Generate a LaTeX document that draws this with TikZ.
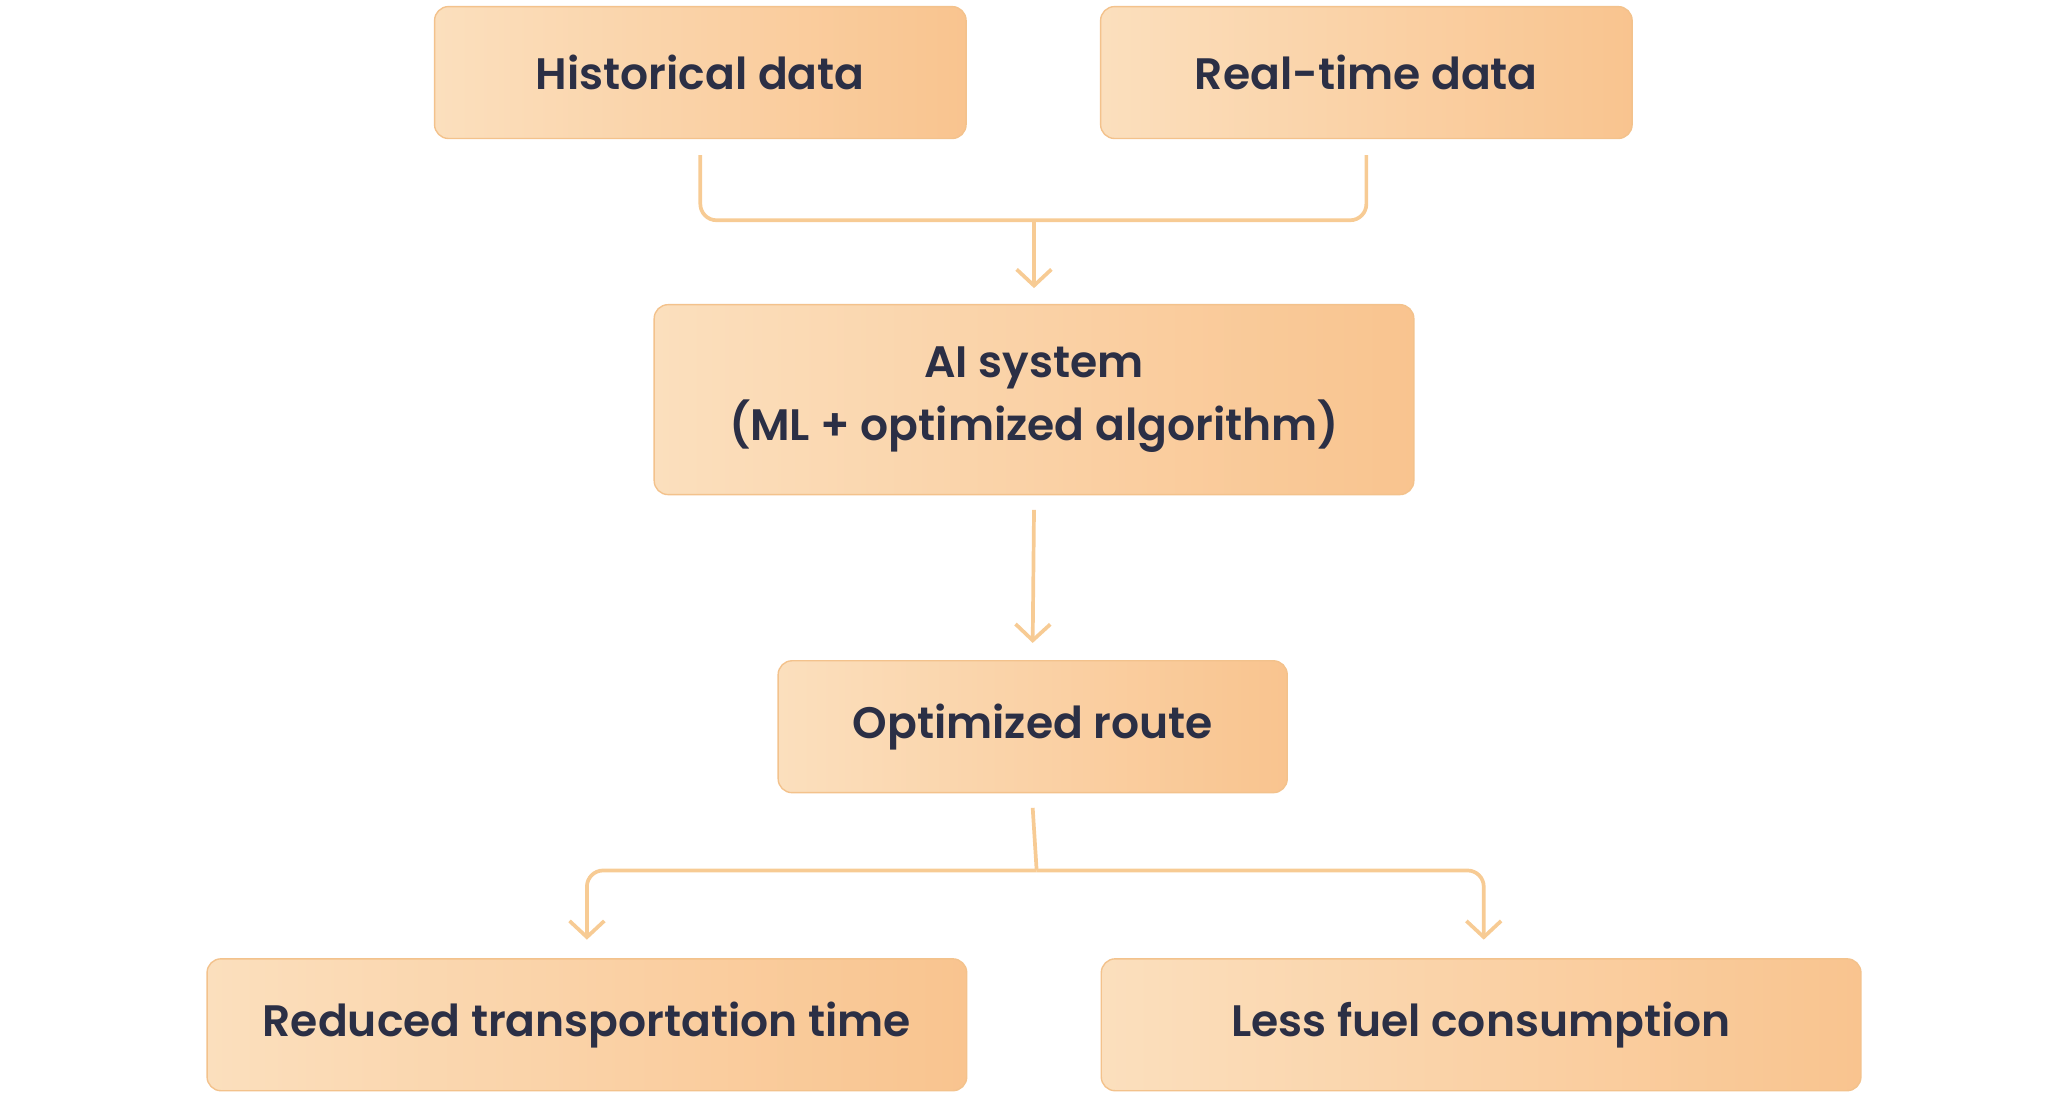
\documentclass[tikz,border=0pt]{standalone}
\usepackage{fontspec}
\setmainfont{Poppins}[UprightFont=* SemiBold,BoldFont=* Bold]
\usetikzlibrary{arrows.meta}
\definecolor{txt}{HTML}{2B2F45}
\definecolor{lnc}{HTML}{F7CB94}
\definecolor{lft}{HTML}{FBDFBD}
\definecolor{rgt}{HTML}{F9C48F}
\definecolor{brd}{HTML}{F3C28C}
\begin{document}
\begin{tikzpicture}[x=0.02cm,y=-0.02cm,
 box/.style={draw=brd,line width=0.6pt,rounded corners=6pt,left color=lft,right color=rgt,
   text=txt,font=\fontsize{19}{27}\selectfont,align=center,inner sep=0pt},
 ln/.style={draw=lnc,line width=1.6pt,rounded corners=7pt},
 arr/.style={ln,-{Straight Barb[length=7pt,width=15pt,line width=1.6pt]}}]
\useasboundingbox (0,0) rectangle (1568,832);
\node[box,minimum width=403*0.02cm,minimum height=100*0.02cm] (h) at (531,55) {Historical data};
\node[box,minimum width=403*0.02cm,minimum height=100*0.02cm] (r) at (1036,55) {Real-time data};
\node[box,minimum width=576*0.02cm,minimum height=144*0.02cm] (ai) at (784,303) {AI system\\(ML + optimized algorithm)};
\node[box,minimum width=386*0.02cm,minimum height=100*0.02cm] (o) at (783,551) {Optimized route};
\node[box,minimum width=576*0.02cm,minimum height=100*0.02cm] (red) at (445,777) {Reduced transportation time};
\node[box,minimum width=576*0.02cm,minimum height=100*0.02cm] (fuel) at (1123,777) {Less fuel consumption};
\coordinate (j1) at (784,167);
\coordinate (j2) at (786,660);
\draw[ln] ([yshift=-12*0.02cm]h.south) -- (531,167) -- (1036,167) -- ([yshift=-12*0.02cm]r.south);
\draw[arr] (j1) -- ([yshift=12*0.02cm]ai.north);
\draw[arr] ([yshift=-11*0.02cm]ai.south) -- ([yshift=13*0.02cm]o.north);
\draw[ln] ([yshift=-11*0.02cm]o.south) -- (j2);
\draw[arr] (j2) -- (445,660) -- ([yshift=14*0.02cm]red.north);
\draw[arr] (j2) -- (1125,660) -- ([xshift=2*0.02cm,yshift=14*0.02cm]fuel.north);
\end{tikzpicture}
\end{document}
